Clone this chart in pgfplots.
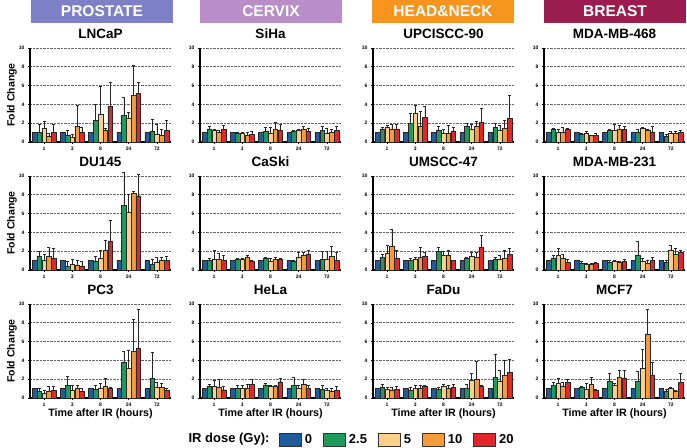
\documentclass[border=0pt]{standalone}
\usepackage{fontspec}
\setmainfont{Liberation Sans}
\usepackage{pgfplots}
\usepackage{pgfplotstable}
\pgfplotsset{compat=1.18}

\definecolor{cA}{HTML}{1F5C9E}
\definecolor{cB}{HTML}{1E9A5C}
\definecolor{cC}{HTML}{FDD08A}
\definecolor{cD}{HTML}{F59B3A}
\definecolor{cE}{HTML}{E3262B}
\definecolor{hP}{HTML}{7D80C5}
\definecolor{hC}{HTML}{B88DC8}
\definecolor{hH}{HTML}{F7941E}
\definecolor{hB}{HTML}{9B1D4E}

% columns: g = time group (1,3,8,24,72 h), a..e = IR dose 0,2.5,5,10,20 Gy; e* = upper error
\pgfplotstableread{
g a b eb c ec d ed e ee
0 1 1.00 0.90 1.50 0.65 0.57 0.33 1.06 0.84
1 1 0.70 0.55 0.50 0.30 1.70 2.20 1.00 0.60
2 1 2.30 1.70 3.00 2.95 1.20 0.25 3.80 2.50
3 1 2.80 1.95 2.55 0.65 4.95 3.25 5.20 1.15
4 1 1.17 1.28 0.78 1.12 0.70 0.65 1.24 1.11
}\tLNCaP
\pgfplotstableread{
g a b eb c ec d ed e ee
0 1 1.50 0.50 1.00 0.70 1.50 0.95 1.25 1.10
1 1 0.40 0.50 0.60 0.50 0.50 0.50 0.45 0.50
2 1 0.95 0.50 1.20 0.90 2.10 1.05 3.10 2.15
3 1 6.90 3.50 6.15 1.95 8.15 0.25 7.90 2.30
4 1 0.60 0.50 0.85 0.50 1.00 0.40 1.05 0.45
}\tDU
\pgfplotstableread{
g a b eb c ec d ed e ee
0 1 0.70 0.35 0.53 0.27 0.75 0.50 0.85 0.42
1 1 1.35 0.95 0.80 0.50 1.00 0.35 0.70 0.30
2 1 0.95 0.45 1.00 0.55 1.30 0.80 1.05 0.10
3 1 3.80 1.20 3.15 1.95 5.00 3.40 5.30 4.15
4 1 2.10 2.75 1.13 0.52 1.15 0.45 0.80 0.25
}\tPC
\pgfplotstableread{
g a b eb c ec d ed e ee
0 1 1.40 0.25 1.20 0.15 1.05 0.20 1.38 0.42
1 1 0.95 0.05 0.92 0.13 0.70 0.30 0.80 0.32
2 1 1.13 0.42 0.95 0.60 1.38 0.72 1.20 0.70
3 1 1.10 0.15 1.28 0.12 1.38 0.27 1.10 0.40
4 1 1.25 0.47 0.92 0.58 1.00 0.38 1.20 0.52
}\tSiHa
\pgfplotstableread{
g a b eb c ec d ed e ee
0 1 1.00 0.25 1.15 0.90 1.15 0.65 1.00 0.60
1 1 1.15 0.07 1.10 0.12 1.35 0.25 0.95 0.10
2 1 1.30 0.05 0.95 0.27 1.12 0.18 1.10 0.12
3 1 0.95 0.10 1.40 0.50 1.60 0.30 1.72 0.35
4 1 1.15 0.85 1.15 0.85 1.45 1.05 1.00 0.83
}\tCaSki
\pgfplotstableread{
g a b eb c ec d ed e ee
0 1 1.20 0.28 1.20 0.65 1.13 0.82 0.88 0.37
1 1 1.00 0.35 1.00 0.38 1.05 0.45 1.45 0.50
2 1 1.40 0.20 1.20 0.20 1.20 0.18 1.73 0.32
3 1 1.38 0.82 1.05 0.35 1.50 0.50 1.00 0.35
4 1 0.90 0.45 0.85 0.20 0.70 0.30 0.85 0.35
}\tHeLa
\pgfplotstableread{
g a b eb c ec d ed e ee
0 1 1.40 0.20 1.58 0.17 1.40 0.45 1.40 0.53
1 1 2.00 1.05 3.10 0.80 1.72 1.53 2.63 1.12
2 1 1.30 0.42 0.92 0.45 0.98 0.84 1.12 0.43
3 1 1.72 0.28 1.40 0.53 1.72 0.53 2.07 1.48
4 1 1.58 0.42 1.20 0.60 1.47 0.83 2.53 2.45
}\tUPC
\pgfplotstableread{
g a b eb c ec d ed e ee
0 1 1.38 0.32 1.83 0.77 2.50 1.80 1.30 0.78
1 1 1.00 0.20 1.10 0.25 1.38 1.05 1.50 0.40
2 1 1.95 0.48 1.55 0.45 1.62 0.48 1.00 0.05
3 1 1.20 0.15 1.50 0.40 1.38 0.47 2.43 1.22
4 1 1.15 0.20 1.15 0.40 1.22 0.86 1.65 0.63
}\tUM
\pgfplotstableread{
g a b eb c ec d ed e ee
0 1 1.12 0.36 0.95 0.17 0.88 0.24 0.90 0.33
1 1 0.85 0.27 1.00 0.30 1.08 0.22 1.30 0.10
2 1 0.92 0.20 1.23 0.27 1.05 0.25 1.15 0.33
3 1 1.00 0.50 1.87 0.73 1.97 1.98 1.27 0.10
4 1 2.22 2.38 1.83 1.09 2.40 1.60 2.70 1.45
}\tFaDu
\pgfplotstableread{
g a b eb c ec d ed e ee
0 1 1.40 0.07 1.00 0.30 1.08 0.50 1.40 0.07
1 1 0.80 0.10 0.88 0.27 0.67 0.08 0.67 0.23
2 1 1.27 0.13 1.27 0.66 1.40 0.42 1.37 0.31
3 1 1.08 0.22 1.47 0.11 1.30 0.10 1.05 0.60
4 1 0.63 0.17 0.95 0.17 0.95 0.17 1.05 0.22
}\tMDAa
\pgfplotstableread{
g a b eb c ec d ed e ee
0 1 1.30 0.30 1.60 0.70 1.20 0.50 0.80 0.30
1 1 0.75 0.15 0.60 0.15 0.60 0.10 0.70 0.15
2 1 0.80 0.20 0.90 0.15 0.80 0.15 0.90 0.20
3 1 1.60 1.50 0.90 0.30 0.75 0.25 1.00 0.30
4 1 0.80 0.20 2.10 0.50 1.70 0.60 1.90 0.20
}\tMDAb
\pgfplotstableread{
g a b eb c ec d ed e ee
0 1 1.38 0.25 1.60 0.52 1.30 0.40 1.63 0.37
1 1 1.13 0.07 0.95 0.57 1.45 0.70 0.85 0.10
2 1 1.77 0.88 1.38 0.17 2.22 0.71 2.15 0.82
3 1 1.80 1.06 3.15 2.05 6.82 2.65 2.44 1.41
4 1 0.67 0.25 1.00 0.13 0.75 0.07 1.63 1.02
}\tMCF

\pgfplotsset{
  panel/.style={
    scale only axis, width=141pt, height=94pt, anchor=south west,
    xmin=-0.5, xmax=4.5, ymin=0, ymax=10,
    ybar, bar width=0.165,
    axis x line*=bottom, axis y line*=left,
    axis line style={line width=1.3pt, black, -},
    xtick={0,1,2,3,4}, xticklabels={1,3,8,24,72},
    ytick={0,2,4,6,8,10},
    ymajorgrids, grid style={densely dotted, black!60, line width=0.7pt},
    tick label style={font=\fontsize{5}{5}\selectfont\bfseries},
    xticklabel style={yshift=0.5pt},
    /pgf/number format/assume math mode=true,
    tick style={black, line width=0.6pt},
    major tick length=2pt, tick align=outside,
    title style={font=\fontsize{13.5}{14}\selectfont\bfseries, inner sep=0pt, yshift=3.5pt},
    clip=false,
    xlabel style={font=\fontsize{10.7}{12}\selectfont\bfseries},
    ylabel style={font=\fontsize{10.5}{12}\selectfont\bfseries},
  },
  errs/.style={error bars/.cd, y dir=plus, y explicit,
    error bar style={line width=0.6pt, black!85},
    error mark options={rotate=90, mark size=1.5pt, line width=0.6pt, black!85}},
  barst/.style={draw=black!85, line width=0.45pt, bar shift=0pt},
  xlab/.style={xlabel={Time after IR (hours)},
    xlabel style={at={(axis description cs:0.5,0)}, anchor=center, yshift=-16pt}},
}

\newcommand\bars[1]{%
  \addplot[barst, fill=cA] table[x expr=\thisrow{g}-0.34, y=a]{#1};
  \addplot[barst, fill=cB, errs] table[x expr=\thisrow{g}-0.17, y=b, y error=eb]{#1};
  \addplot[barst, fill=cC, errs] table[x expr=\thisrow{g}, y=c, y error=ec]{#1};
  \addplot[barst, fill=cD, errs] table[x expr=\thisrow{g}+0.17, y=d, y error=ed]{#1};
  \addplot[barst, fill=cE, errs] table[x expr=\thisrow{g}+0.34, y=e, y error=ee]{#1};
}

\begin{document}
\begin{tikzpicture}
\useasboundingbox (0pt,0pt) rectangle (687pt,447pt);

% headers
\fill[hP] (31pt,424pt) rectangle (173pt,447pt);
\fill[hC] (200pt,424pt) rectangle (342pt,447pt);
\fill[hH] (372pt,424pt) rectangle (514pt,447pt);
\fill[hB] (544pt,424pt) rectangle (686pt,447pt);
\node[white, font=\fontsize{15.5}{16}\selectfont\bfseries] at (102pt,435.5pt) {PROSTATE};
\node[white, font=\fontsize{15.5}{16}\selectfont\bfseries] at (271pt,435.5pt) {CERVIX};
\node[white, font=\fontsize{15.5}{16}\selectfont\bfseries] at (443pt,435.5pt) {HEAD\&NECK};
\node[white, font=\fontsize{15.5}{16}\selectfont\bfseries] at (615pt,435.5pt) {BREAST};

% column 1
\begin{axis}[panel, at={(30pt,305pt)}, title={LNCaP}, ylabel={Fold Change},
  ylabel style={at={(axis description cs:-0.128,0.5)}, anchor=center}]
\bars{\tLNCaP}
\end{axis}
\begin{axis}[panel, at={(30pt,177pt)}, title={DU145}, ylabel={Fold Change},
  ylabel style={at={(axis description cs:-0.128,0.5)}, anchor=center}]
\bars{\tDU}
\end{axis}
\begin{axis}[panel, at={(30pt,49pt)}, title={PC3}, ylabel={Fold Change},
  ylabel style={at={(axis description cs:-0.128,0.5)}, anchor=center}, xlab]
\bars{\tPC}
\end{axis}

% column 2
\begin{axis}[panel, at={(200pt,305pt)}, title={SiHa}]
\bars{\tSiHa}
\end{axis}
\begin{axis}[panel, at={(200pt,177pt)}, title={CaSki}]
\bars{\tCaSki}
\end{axis}
\begin{axis}[panel, at={(200pt,49pt)}, title={HeLa}, xlab,
  legend columns=5,
  legend style={at={(axis description cs:0.56,-0.4415)}, anchor=west, draw=none, fill=none,
    inner sep=0pt, font=\fontsize{13}{14}\selectfont\bfseries,
    nodes={inner sep=0pt, anchor=west},
    /tikz/every odd column/.append style={column sep=3pt},
    /tikz/every even column/.append style={column sep=11pt}}]
\addlegendimage{legend image code/.code={\draw[fill=cA, draw=black!80, line width=0.8pt] (0pt,-6.5pt) rectangle (22pt,6.5pt);}}
\addlegendentry{0}
\addlegendimage{legend image code/.code={\draw[fill=cB, draw=black!80, line width=0.8pt] (0pt,-6.5pt) rectangle (22pt,6.5pt);}}
\addlegendentry{2.5}
\addlegendimage{legend image code/.code={\draw[fill=cC, draw=black!80, line width=0.8pt] (0pt,-6.5pt) rectangle (22pt,6.5pt);}}
\addlegendentry{5}
\addlegendimage{legend image code/.code={\draw[fill=cD, draw=black!80, line width=0.8pt] (0pt,-6.5pt) rectangle (22pt,6.5pt);}}
\addlegendentry{10}
\addlegendimage{legend image code/.code={\draw[fill=cE, draw=black!80, line width=0.8pt] (0pt,-6.5pt) rectangle (22pt,6.5pt);}}
\addlegendentry{20}
\bars{\tHeLa}
\end{axis}

% column 3
\begin{axis}[panel, at={(373pt,305pt)}, title={UPCISCC-90}]
\bars{\tUPC}
\end{axis}
\begin{axis}[panel, at={(373pt,177pt)}, title={UMSCC-47}]
\bars{\tUM}
\end{axis}
\begin{axis}[panel, at={(373pt,49pt)}, title={FaDu}, xlab]
\bars{\tFaDu}
\end{axis}

% column 4
\begin{axis}[panel, at={(544pt,305pt)}, title={MDA-MB-468}]
\bars{\tMDAa}
\end{axis}
\begin{axis}[panel, at={(544pt,177pt)}, title={MDA-MB-231}]
\bars{\tMDAb}
\end{axis}
\begin{axis}[panel, at={(544pt,49pt)}, title={MCF7}, xlab]
\bars{\tMCF}
\end{axis}

\node[anchor=east, font=\fontsize{13}{14}\selectfont\bfseries] at (273pt,7.5pt) {IR dose (Gy):};
\end{tikzpicture}
\end{document}
